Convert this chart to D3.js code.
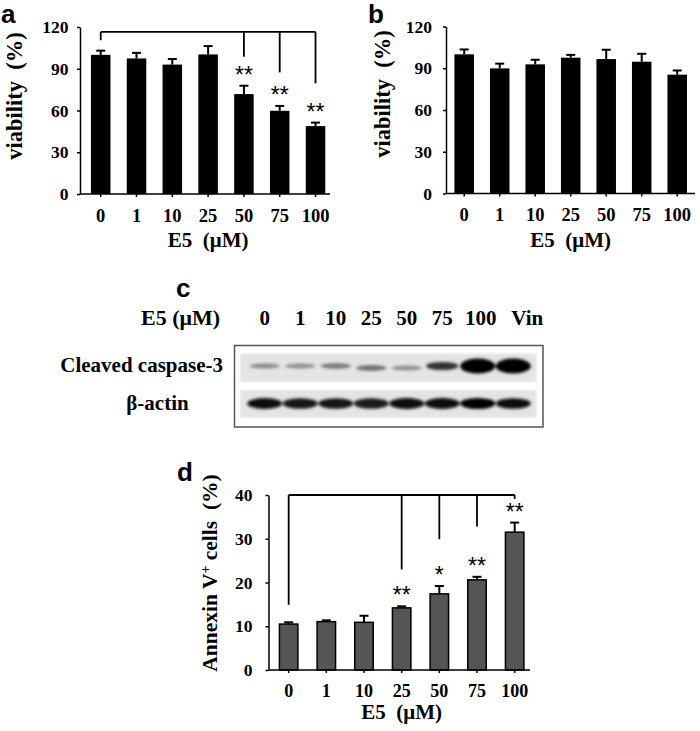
<!DOCTYPE html>
<html>
<head>
<meta charset="utf-8">
<script src="https://cdn.jsdelivr.net/npm/d3@7"></script>
<style>
  body { margin: 0; background: #fff; }
  svg { display: block; }
  .serif { font-family: "Liberation Serif", "Times New Roman", serif; font-weight: bold; }
  .letter { font-family: "Liberation Sans", Arial, sans-serif; font-weight: bold; font-size: 26px; }
</style>
</head>
<body>
<svg id="fig" width="700" height="731"></svg>
<script>
// ---- data ----
const doses = ["0", "1", "10", "25", "50", "75", "100"];

// panel a: viability, first cell line
const viabilityA = [100, 97.4, 93, 100.3, 71.8, 59.8, 48.8];
const errA = [3, 4, 4, 6, 6, 3.5, 2.5];
const starsA = ["", "", "", "", "**", "**", "**"];
const bracketTopA = 116.5;
const bracketEndsA = [110.5, null, null, null, 98.6, 87.4, 79.5];

// panel b: viability, second cell line
const viabilityB = [100, 89.9, 92.8, 97.6, 96.6, 94.7, 85.4];
const errB = [3.5, 3.4, 3.3, 2, 6.7, 5.7, 3];

const viabilityTicks = [0, 30, 60, 90, 120];

// panel c: western blot lanes, relative band strength
const lanes = ["0", "1", "10", "25", "50", "75", "100", "Vin"];
const caspase = [0.32, 0.3, 0.38, 0.4, 0.3, 0.62, 1, 1];
const actin = [0.95, 0.9, 0.9, 0.88, 0.97, 0.97, 1, 0.93];

// panel d: annexin V+ cells
const annexin = [10.5, 11.05, 10.9, 14.2, 17.4, 20.6, 31.5];
const errD = [0.4, 0.3, 1.5, 0.35, 1.8, 0.7, 2.2];
const starsD = ["", "", "", "**", "*", "**", "**"];
const bracketTopD = 40;
const bracketEndsD = [14.9, null, null, 23, 29.9, 32.8, 39.1];
const annexinTicks = [0, 10, 20, 30, 40];

const svg = d3.select("#fig");
svg.append("rect").attr("width", 700).attr("height", 731).attr("fill", "#fff");

// generic bar panel
function barPanel(o) {
  const g = svg.append("g");
  const x = d3.scaleBand().domain(doses)
    .range([o.left, o.left + o.step * (doses.length - o.pin + 2 * o.pout)])
    .paddingInner(o.pin).paddingOuter(o.pout);
  const y = d3.scaleLinear().domain(o.domain).range([o.bottom, o.top]);
  const black = o.fill === "#000";

  // error bars (upper only)
  const eb = g.append("g").attr("stroke", "#000").attr("stroke-width", 2);
  o.values.forEach((v, i) => {
    const cx = x(doses[i]) + x.bandwidth() / 2;
    eb.append("line").attr("x1", cx).attr("x2", cx).attr("y1", y(v)).attr("y2", y(v + o.err[i]));
    eb.append("line").attr("x1", cx - 4.5).attr("x2", cx + 4.5).attr("y1", y(v + o.err[i])).attr("y2", y(v + o.err[i]));
  });

  g.selectAll("rect.bar").data(o.values).join("rect")
    .attr("class", "bar")
    .attr("x", (d, i) => x(doses[i]) + (black ? 0 : 0.75))
    .attr("width", x.bandwidth() - (black ? 0 : 1.5))
    .attr("y", d => y(d))
    .attr("height", d => o.bottom - y(d))
    .attr("fill", o.fill)
    .attr("stroke", black ? "none" : "#000")
    .attr("stroke-width", 1.5);

  // y axis
  const ya = g.append("g").attr("transform", `translate(${o.left},0)`)
    .call(d3.axisLeft(y).tickValues(o.ticks).tickSize(3).tickSizeOuter(0).tickPadding(o.yPad));
  ya.select(".domain").attr("stroke-width", 1.5);
  ya.selectAll(".tick line").attr("stroke-width", 1.5);
  ya.selectAll("text").attr("class", "serif").style("font-size", "17.5px").attr("fill", "#000");

  // x axis
  const xa = g.append("g").attr("transform", `translate(0,${o.bottom})`)
    .call(d3.axisBottom(x).tickSize(3).tickPadding(11.5));
  xa.select(".domain").remove();
  xa.selectAll(".tick line").attr("stroke-width", 1.5);
  xa.selectAll("text").attr("class", "serif").style("font-size", o.xFont).attr("fill", "#000");
  g.append("line").attr("x1", o.left).attr("x2", o.right)
    .attr("y1", o.bottom).attr("y2", o.bottom).attr("stroke", "#000").attr("stroke-width", 1.5);

  const mid = (x(doses[0]) + x(doses[doses.length - 1]) + x.bandwidth()) / 2;
  g.append("text").attr("class", "serif").style("font-size", "21px")
    .attr("x", mid).attr("y", o.titleY).attr("text-anchor", "middle")
    .attr("xml:space", "preserve").text("E5  (\u03bcM)");

  // significance bracket
  if (o.bracketEnds) {
    const cx = i => x(doses[i]) + x.bandwidth() / 2;
    const idx = o.bracketEnds.map((d, i) => d == null ? -1 : i).filter(i => i >= 0);
    const bg = g.append("g").attr("stroke", "#000").attr("stroke-width", 1.8).attr("fill", "none");
    bg.append("line").attr("x1", cx(idx[0])).attr("x2", cx(idx[idx.length - 1]))
      .attr("y1", y(o.bracketTop)).attr("y2", y(o.bracketTop));
    idx.forEach(i => {
      bg.append("line").attr("x1", cx(i)).attr("x2", cx(i))
        .attr("y1", y(o.bracketTop)).attr("y2", y(o.bracketEnds[i]));
    });
  }
  if (o.stars) {
    o.stars.forEach((s, i) => {
      if (!s) return;
      g.append("text").attr("x", x(doses[i]) + x.bandwidth() / 2)
        .attr("y", y(o.values[i] + o.err[i]) - o.starGap)
        .attr("text-anchor", "middle")
        .style("font-family", "'Liberation Sans', Arial, sans-serif")
        .style("font-size", "23px")
        .text(s);
    });
  }
  return g;
}

// ---- panel a ----
barPanel({
  values: viabilityA, err: errA, domain: [0, 120], ticks: viabilityTicks,
  left: 80, right: 330, top: 27, bottom: 194, step: 35.8, pin: 0.455, pout: 0.306,
  yPad: 8.5, titleY: 247, fill: "#000", xFont: "18.5px",
  stars: starsA, starGap: 2.5, bracketTop: bracketTopA, bracketEnds: bracketEndsA
});
svg.append("text").attr("class", "letter").attr("x", 1).attr("y", 23).text("a");
svg.append("text").attr("class", "serif").style("font-size", "22.5px")
  .attr("transform", "translate(22,96) rotate(-90)").attr("text-anchor", "middle")
  .attr("xml:space", "preserve").text("viability  (%)");

// ---- panel b ----
barPanel({
  values: viabilityB, err: errB, domain: [0, 120], ticks: viabilityTicks,
  left: 446, right: 695, top: 26.5, bottom: 193.5, step: 35.5, pin: 0.45, pout: 0.238,
  yPad: 11, titleY: 247, fill: "#000", xFont: "18.5px"
});
svg.append("text").attr("class", "letter").attr("x", 368).attr("y", 23).text("b");
svg.append("text").attr("class", "serif").style("font-size", "22.5px")
  .attr("transform", "translate(389.5,94) rotate(-90)").attr("text-anchor", "middle")
  .attr("xml:space", "preserve").text("viability  (%)");

// ---- panel c: blot ----
const defs = svg.append("defs");
defs.append("filter").attr("id", "blur").attr("x", "-30%").attr("y", "-100%")
  .attr("width", "160%").attr("height", "300%")
  .append("feGaussianBlur").attr("stdDeviation", 1.7);
defs.append("filter").attr("id", "soft")
  .append("feGaussianBlur").attr("stdDeviation", 0.8);

svg.append("text").attr("class", "letter").attr("x", 176).attr("y", 297).text("c");
svg.append("text").attr("class", "serif").style("font-size", "22px")
  .attr("x", 141).attr("y", 325).text("E5 (\u03bcM)");

const lane = d3.scaleBand().domain(lanes).range([247, 531]);
svg.append("g").selectAll("text").data(lanes).join("text")
  .attr("class", "serif").style("font-size", "21px")
  .attr("x", d => lane(d) + lane.bandwidth() / 2 + (d === "Vin" ? 14 : d === "100" ? 3 : 0))
  .attr("y", 325).attr("text-anchor", "middle").text(d => d);

svg.append("text").attr("class", "serif").style("font-size", "21px")
  .attr("x", 223).attr("y", 372).attr("text-anchor", "end").text("Cleaved caspase-3");
svg.append("text").attr("class", "serif").style("font-size", "21px")
  .attr("x", 157.5).attr("y", 410).attr("text-anchor", "middle").text("\u03b2-actin");

svg.append("rect").attr("x", 234.5).attr("y", 345.5).attr("width", 308.5).attr("height", 81.5)
  .attr("fill", "#fff").attr("stroke", "#555").attr("stroke-width", 1.5);
svg.append("rect").attr("x", 240).attr("y", 353.5).attr("width", 296.5).attr("height", 28.5)
  .attr("fill", "#e4e4e4").attr("filter", "url(#soft)");
svg.append("rect").attr("x", 240).attr("y", 390).attr("width", 296.5).attr("height", 27.5)
  .attr("fill", "#e4e4e4").attr("filter", "url(#soft)");

const shade = d3.scaleLinear().domain([0, 1]).range(["#e4e4e4", "#000"]);
svg.append("g").attr("filter", "url(#blur)").selectAll("ellipse").data(caspase).join("ellipse")
  .attr("cx", (d, i) => lane(lanes[i]) + lane.bandwidth() / 2)
  .attr("cy", (d, i) => (i === 3 || i === 4) ? 368 : 366)
  .attr("rx", d => 14 + 3.5 * d)
  .attr("ry", d => 2 + 5.5 * d * d)
  .attr("fill", d => shade(Math.min(1, d * 1.25)));
svg.append("g").attr("filter", "url(#blur)").selectAll("ellipse").data(actin).join("ellipse")
  .attr("cx", (d, i) => lane(lanes[i]) + lane.bandwidth() / 2)
  .attr("cy", 403.5)
  .attr("rx", 17.5)
  .attr("ry", d => 3.5 + 2 * d)
  .attr("fill", d => shade(d));

// ---- panel d ----
barPanel({
  values: annexin, err: errD, domain: [0, 40], ticks: annexinTicks,
  left: 268.5, right: 530, top: 495, bottom: 670, step: 37.67, pin: 0.47, pout: 0.27,
  yPad: 13, titleY: 719, fill: "#555", xFont: "18px",
  stars: starsD, starGap: 3, bracketTop: bracketTopD, bracketEnds: bracketEndsD
});
svg.append("text").attr("class", "letter").attr("x", 177).attr("y", 481).text("d");
const ttl = svg.append("text").attr("class", "serif").style("font-size", "21.5px")
  .attr("transform", "translate(216.5,573) rotate(-90)").attr("text-anchor", "middle")
  .attr("xml:space", "preserve");
ttl.append("tspan").text("Annexin V");
ttl.append("tspan").attr("baseline-shift", "super").style("font-size", "14px").text("+");
ttl.append("tspan").text(" cells  (%)");
</script>
</body>
</html>
